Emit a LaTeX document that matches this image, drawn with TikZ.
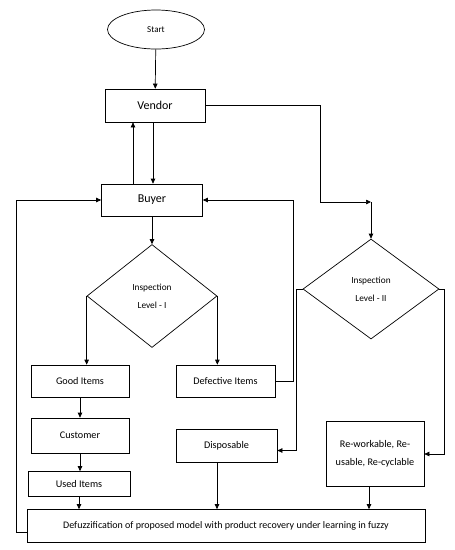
\documentclass[tikz,border=0pt]{standalone}
\usepackage{fontspec}
\setmainfont{Carlito}
\usetikzlibrary{arrows.meta,calc,shapes.geometric}

\begin{document}
\begin{tikzpicture}[x=1pt,y=-1pt,
      line width=0.7pt,
      >={Triangle[length=5pt,width=4.5pt]},
      every node/.style={font=\fontsize{10.2}{12}\selectfont,inner sep=0pt,align=center},
      box/.style={draw,rectangle},
      decision/.style={draw,diamond,font=\fontsize{9.3}{18}\selectfont}
     ]
    \useasboundingbox (0,0) rectangle (455,550);
    \node[draw,ellipse,minimum width=97,minimum height=39,font=\fontsize{9}{11}\selectfont] (start) at (156,29.5) {Start};
    \node[box,minimum width=100,minimum height=33,font=\fontsize{12}{14}\selectfont] (vendor) at (155,105.5) {Vendor};
    \node[box,minimum width=101,minimum height=32,font=\fontsize{12}{14}\selectfont] (buyer) at (152,200) {Buyer};
    \node[decision,minimum width=130,minimum height=103] (insp1) at (152,296) {Inspection\\Level - I};
    \node[decision,minimum width=136,minimum height=100] (insp2) at (371,289) {Inspection\\Level - II};
    \node[box,minimum width=98,minimum height=32] (good) at (80,381) {Good Items};
    \node[box,minimum width=99,minimum height=32] (defect) at (225.5,381) {Defective Items};
    \node[box,minimum width=98,minimum height=35] (customer) at (80,435.5) {Customer};
    \node[box,minimum width=102,minimum height=25] (used) at (79,484) {Used Items};
    \node[box,minimum width=101,minimum height=33] (dispo) at (226.5,445.5) {Disposable};
    \node[box,minimum width=98,minimum height=65,font=\fontsize{10.2}{17.5}\selectfont] (rework) at (375,454) {Re-workable, Re-\\usable, Re-cyclable};
    \node[box,minimum width=398,minimum height=33,font=\fontsize{10}{12}\selectfont] (defuzz) at (226,526) {Defuzzification of proposed model with product recovery under learning in fuzzy};
    \coordinate (turn) at (371,202);

    \draw[->] (start) -- (vendor);
    \draw[->] ([xshift=-2pt]vendor.south) -- ([xshift=-2pt]vendor.south |- buyer.north);
    \draw[->] ([xshift=-19pt]buyer.north) -- ([xshift=-19pt]buyer.north |- vendor.south);
    \draw[->] (vendor.east) -- ++(115,0) |- (turn);
    \draw[->] (turn) -- (insp2.north);
    \draw[->] (buyer) -- (insp1);
    \draw[->] (insp1.west) -- (insp1.west |- good.north);
    \draw[->] (insp1.east) -- (insp1.east |- defect.north);
    \draw[->] (defect.east) -- ++(18,0) |- (buyer.east);
    \draw[->] (insp2.west) -- ++(-6,0) |- ([yshift=-5pt]dispo.east);
    \draw[->] (insp2.east) -- ++(5,0) |- (rework.east);
    \draw[->] (good) -- (customer);
    \draw[->] (customer) -- (customer |- used.north);
    \draw[->] (used.south) -- (used.south |- defuzz.north);
    \draw[->] ([xshift=-9.5pt]dispo.south) -- ([xshift=-9.5pt]dispo.south |- defuzz.north);
    \draw[->] ([xshift=-6pt]rework.south) -- ([xshift=-6pt]rework.south |- defuzz.north);
    \draw[->] ([yshift=-6pt]defuzz.west) -- ++(-10,0) |- (buyer.west);
\end{tikzpicture}
\end{document}
